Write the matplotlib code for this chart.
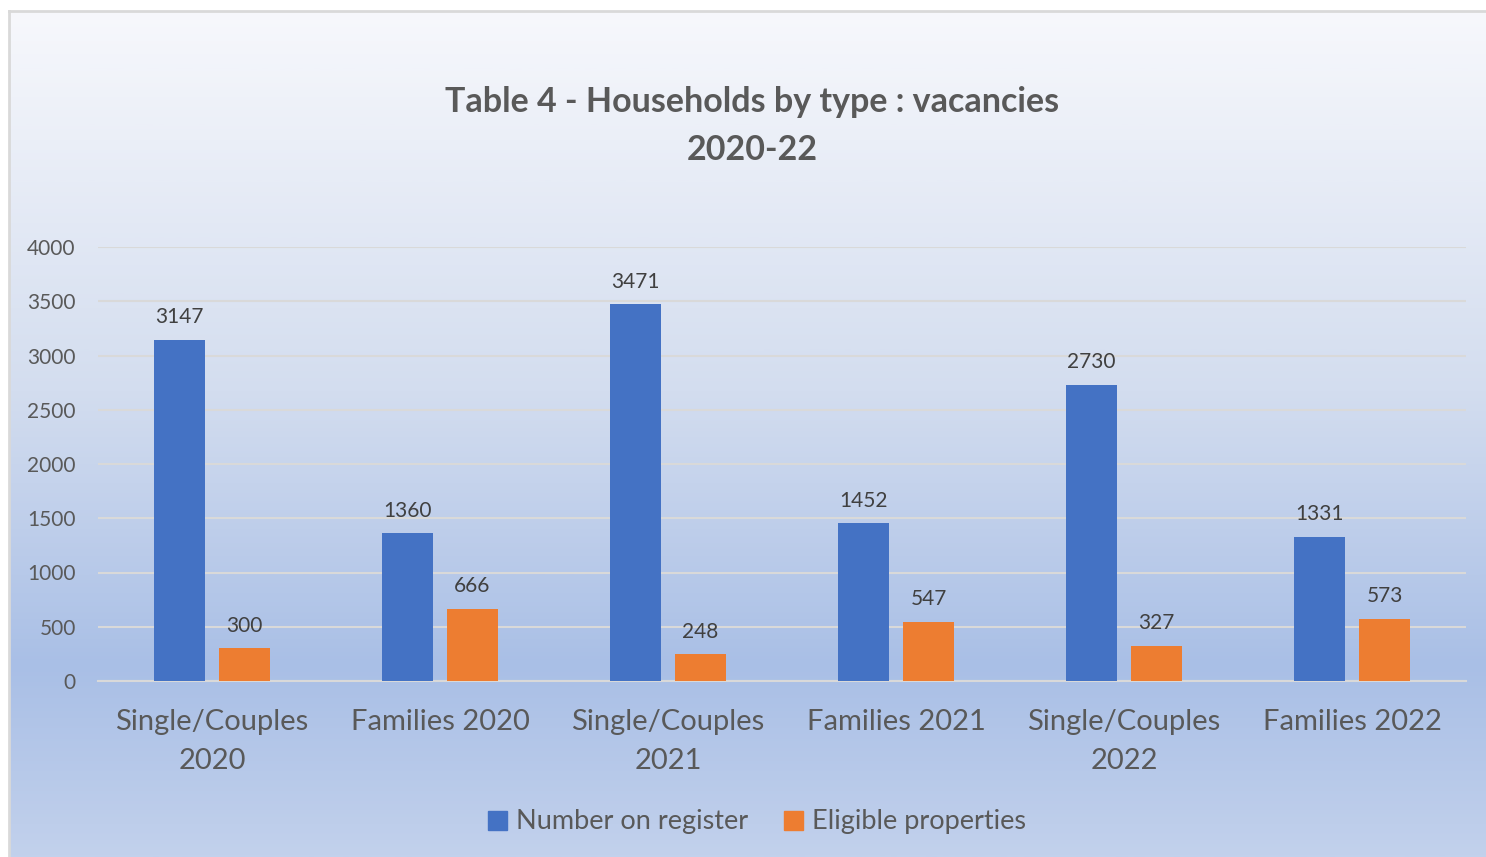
import numpy as np
import matplotlib.pyplot as plt
from matplotlib.colors import LinearSegmentedColormap
from matplotlib.patches import Patch

plt.rcParams['font.family'] = ['Lato', 'DejaVu Sans']

categories = ["Single/Couples\n2020", "Families 2020", "Single/Couples\n2021",
              "Families 2021", "Single/Couples\n2022", "Families 2022"]
register = [3147, 1360, 3471, 1452, 2730, 1331]
eligible = [300, 666, 248, 547, 327, 573]
series_names = ["Number on register", "Eligible properties"]
yticks = [0, 500, 1000, 1500, 2000, 2500, 3000, 3500, 4000]

W, H = 1486, 857
fig = plt.figure(figsize=(W / 100, H / 100), dpi=100)
fig.patch.set_facecolor('white')

# gradient chart area background
bg = fig.add_axes([9 / W, 0, (W - 9) / W, (H - 11) / H], zorder=0)
cmap = LinearSegmentedColormap.from_list(
    'office', [(0.0, '#f7f8fc'), (0.45, '#d3ddef'), (0.775, '#a9bfe6'), (1.0, '#c2d1ec')])
grad = np.linspace(0, 1, 512).reshape(-1, 1)
bg.imshow(grad, aspect='auto', cmap=cmap, extent=[0, 1, 0, 1], origin='upper')
bg.set_xlim(0, 1)
bg.set_ylim(0, 1)
bg.set_xticks([])
bg.set_yticks([])
for s in ['right', 'bottom']:
    bg.spines[s].set_visible(False)
for s in ['left', 'top']:
    bg.spines[s].set_color('#d9d9d9')
    bg.spines[s].set_linewidth(2)

ax = fig.add_axes([98 / W, (H - 681) / H, (1466 - 98) / W, (681 - 247) / H], zorder=1)
ax.patch.set_alpha(0)

x = np.arange(len(categories))
bw = 0.224
off = 0.1425
b1 = ax.bar(x - off, register, bw, color='#4472c4', zorder=3)
b2 = ax.bar(x + off, eligible, bw, color='#ed7d31', zorder=3)

for bars in (b1, b2):
    for r in bars:
        ax.annotate(f"{int(r.get_height())}", (r.get_x() + r.get_width() / 2, r.get_height()),
                    xytext=(0, 9), textcoords='offset points', ha='center', va='bottom',
                    fontsize=15, color='#404040')

ax.set_xlim(-0.5, len(categories) - 0.5)
ax.set_ylim(0, 4000)
ax.set_yticks(yticks)
ax.yaxis.grid(True, color='#d9d9d9', linewidth=1.5, zorder=0)
ax.set_axisbelow(True)
for s in ['top', 'right', 'left']:
    ax.spines[s].set_visible(False)
ax.spines['bottom'].set_color('#d9d9d9')
ax.spines['bottom'].set_linewidth(1.5)
ax.tick_params(axis='both', length=0, colors='#595959')
ax.tick_params(axis='y', labelsize=15, pad=16)
ax.set_xticks(x)
ax.set_xticklabels(categories, fontsize=21, linespacing=1.65)
ax.tick_params(axis='x', pad=20)

fig.text(752 / W, 1 - 126 / H, "Table 4 - Households by type : vacancies\n2020-22",
         ha='center', va='center', fontsize=24.5, fontweight='bold', color='#595959',
         linespacing=1.6)

handles = [Patch(color='#4472c4'), Patch(color='#ed7d31')]
fig.legend(handles, series_names, loc='center', bbox_to_anchor=(757 / W, 1 - 822 / H),
           ncol=2, frameon=False, fontsize=19.5, labelcolor='#595959',
           handlelength=0.7, handleheight=0.7, handletextpad=0.35, columnspacing=1.3)

fig.savefig('out.png', dpi=100)
